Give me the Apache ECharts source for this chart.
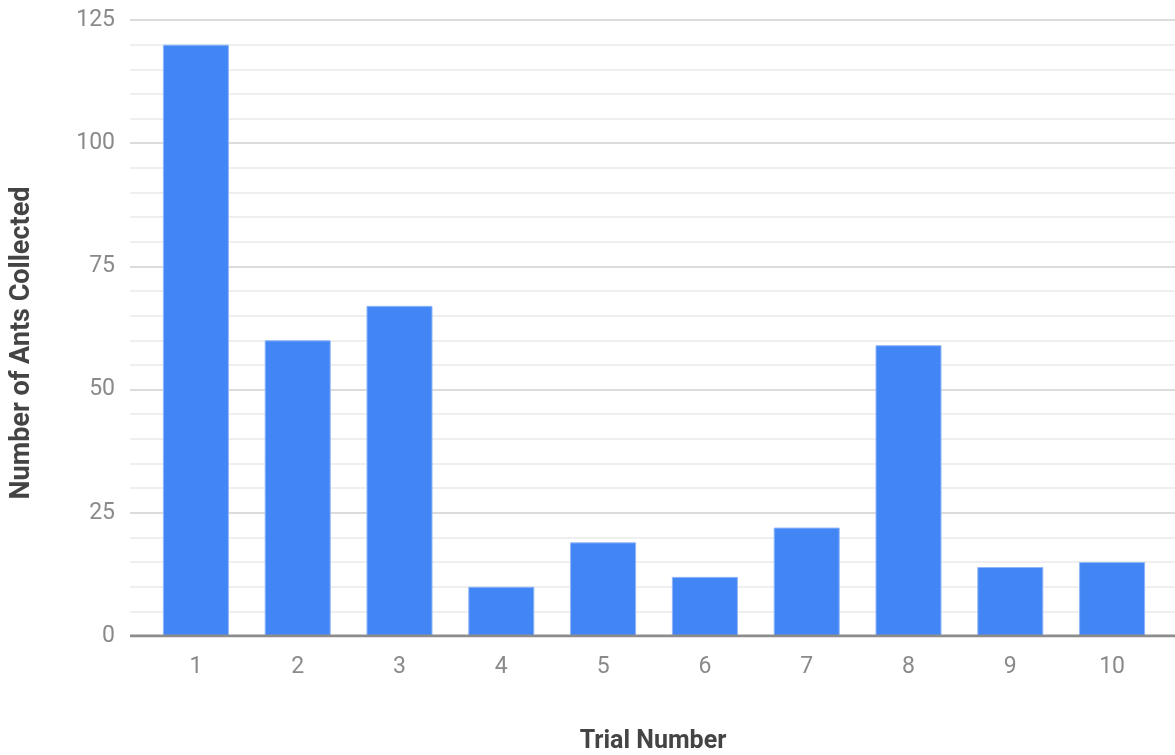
<!DOCTYPE html>
<html><head><meta charset="utf-8">
<script src="https://cdn.jsdelivr.net/npm/echarts@6/dist/echarts.min.js"></script>
<style>html,body{margin:0;padding:0;background:#fff}#c{width:1175px;height:755px}</style>
</head><body><div id="c"></div>
<script>
const categories = ['1','2','3','4','5','6','7','8','9','10'];
const antsCollected = [120, 60, 67, 10, 19, 12, 22, 59, 14, 15];
const yTicks = {min: 0, max: 125, interval: 25};
const xTitle = 'Trial Number';
const yTitle = 'Number of Ants Collected';

const chart = echarts.init(document.getElementById('c'));
chart.setOption({
  animation: false,
  grid: [
    {left: 130, right: 0, top: 20, bottom: 119},
    {left: 145, right: 12, top: 20, bottom: 119}
  ],
  xAxis: [
    {gridIndex: 0, type: 'value', min: 0, max: 1, show: true,
     axisLabel: {show: false}, axisTick: {show: false}, splitLine: {show: false},
     axisLine: {show: false}},
    {gridIndex: 1, type: 'category', data: categories,
     axisLine: {show: false}, axisTick: {show: false},
     axisLabel: {color: '#8a8a8a', fontSize: 23, fontFamily: 'Roboto', margin: 20}}
  ],
  yAxis: [
    {gridIndex: 0, type: 'value', min: yTicks.min, max: yTicks.max, interval: yTicks.interval,
     axisLine: {show: false}, axisTick: {show: false},
     axisLabel: {color: '#8a8a8a', fontSize: 23, fontFamily: 'Roboto', margin: 15},
     splitLine: {lineStyle: {color: '#dcdcdc', width: 2}},
     minorTick: {show: false, splitNumber: 5},
     minorSplitLine: {show: true, lineStyle: {color: '#efefef', width: 2}}},
    {gridIndex: 1, type: 'value', min: yTicks.min, max: yTicks.max, interval: yTicks.interval, show: false}
  ],
  series: [
    {type: 'bar', xAxisIndex: 1, yAxisIndex: 1, data: antsCollected, barWidth: 66,
     itemStyle: {color: '#4285f4', borderColor: '#8fb6f8', borderWidth: 1}, z: 2},
    {type: 'line', xAxisIndex: 0, yAxisIndex: 0, data: [[0,0],[1,0]], symbol: 'none',
     lineStyle: {color: '#8c8c8c', width: 3}, z: 3, silent: true}
  ],
  graphic: [
    {type: 'text', x: 653, y: 742,
     style: {text: xTitle, font: 'bold 25px Roboto', fill: '#444', align: 'center', verticalAlign: 'middle'}},
    {type: 'text', x: 22, y: 343, rotation: Math.PI/2,
     style: {text: yTitle, font: 'bold 27px Roboto', fill: '#444', align: 'center', verticalAlign: 'middle'}}
  ]
});
</script></body></html>
